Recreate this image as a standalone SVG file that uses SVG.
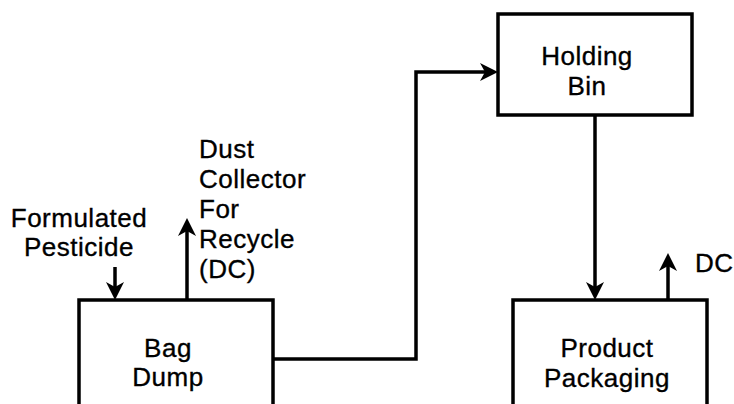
<svg xmlns="http://www.w3.org/2000/svg" width="734" height="404" viewBox="0 0 734 404">
<style>
  .box { fill: #fff; stroke: #000; stroke-width: 3.5; }
  .lbl { font-family: "Liberation Sans", Arial, Helvetica, sans-serif; font-size: 26px; letter-spacing: 0.5px; fill: #000; stroke: #000; stroke-width: 0.35; }
  .mid { text-anchor: middle; }
  .conn { fill: none; stroke: #000; stroke-width: 3.5; }
</style>
<defs>
  <marker id="ah" viewBox="0 0 18 18" refX="9" refY="9" markerWidth="18" markerHeight="18" markerUnits="userSpaceOnUse" orient="auto">
    <path d="M0,0 L18,9 L0,18 L5,9 z" fill="#000"/>
  </marker>
</defs>
<rect width="734" height="404" fill="#fff"/>
<g id="bag-dump">
  <rect class="box" x="79" y="300" width="194" height="130"/>
  <text class="lbl mid" x="168" y="357">Bag</text>
  <text class="lbl mid" x="168" y="386">Dump</text>
</g>
<g id="holding-bin">
  <rect class="box" x="498" y="14" width="194" height="101"/>
  <text class="lbl mid" x="587" y="65">Holding</text>
  <text class="lbl mid" x="587" y="95">Bin</text>
</g>
<g id="product-packaging">
  <rect class="box" x="513" y="300" width="194" height="130"/>
  <text class="lbl mid" x="607" y="357">Product</text>
  <text class="lbl mid" x="607" y="387">Packaging</text>
</g>
<g id="formulated-pesticide">
  <text class="lbl mid" x="79" y="227">Formulated</text>
  <text class="lbl mid" x="79" y="256">Pesticide</text>
</g>
<g id="dust-collector">
  <text class="lbl" x="199" y="158">Dust</text>
  <text class="lbl" x="199" y="188">Collector</text>
  <text class="lbl" x="199" y="218">For</text>
  <text class="lbl" x="199" y="248">Recycle</text>
  <text class="lbl" x="199" y="278">(DC)</text>
</g>
<g id="dc">
  <text class="lbl" x="695" y="272">DC</text>
</g>
<g id="connectors">
  <path class="conn" d="M115,267 V291" marker-end="url(#ah)"/>
  <path class="conn" d="M187,300 V227" marker-end="url(#ah)"/>
  <path class="conn" d="M273,359 H416 V72 H489" marker-end="url(#ah)"/>
  <path class="conn" d="M595,115 V291" marker-end="url(#ah)"/>
  <path class="conn" d="M668,300 V262" marker-end="url(#ah)"/>
</g>
</svg>
